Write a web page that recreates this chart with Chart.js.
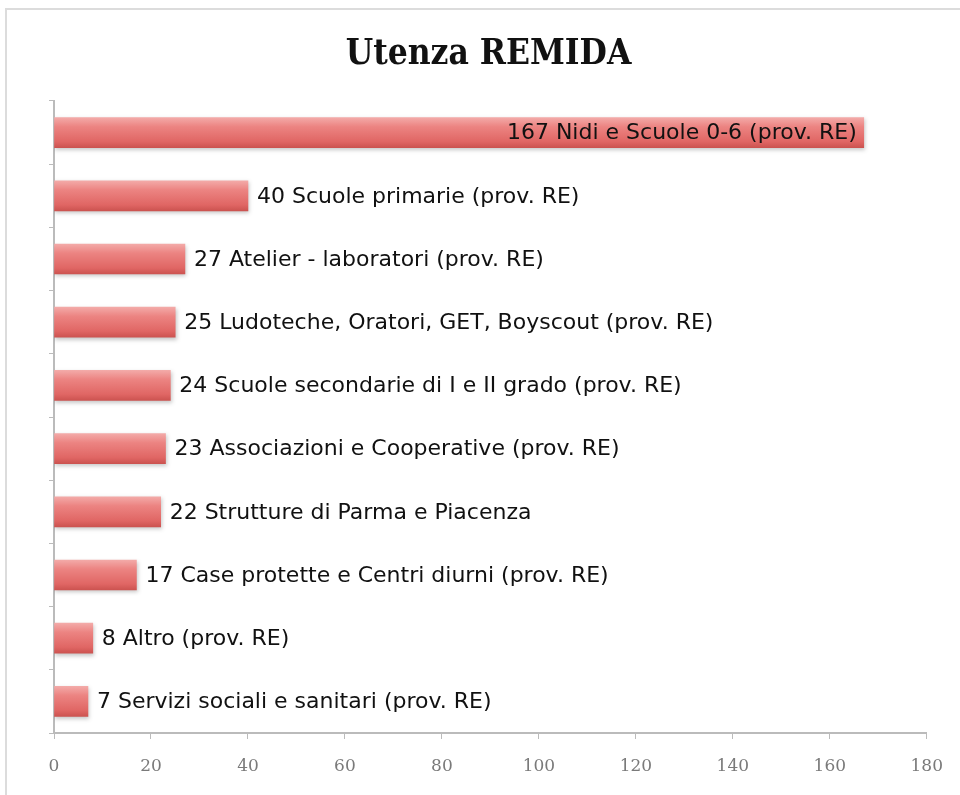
<!DOCTYPE html>
<html><head><meta charset="utf-8">
<script src="https://cdn.jsdelivr.net/npm/chart.js@4"></script>
<style>
html,body{margin:0;padding:0;background:#fff;overflow:hidden;}
#frame{position:absolute;left:5px;top:8px;width:1000px;height:900px;border:2px solid #dcdcdc;box-sizing:border-box;}
#wrap{position:absolute;left:0;top:0;width:960px;height:795px;}
</style></head>
<body>
<div id="frame"></div>
<div id="wrap"><canvas id="c" width="960" height="795"></canvas></div>
<script>
const chartTitle = "Utenza REMIDA";
const categories = [
  "Nidi e Scuole 0-6 (prov. RE)",
  "Scuole primarie (prov. RE)",
  "Atelier - laboratori (prov. RE)",
  "Ludoteche, Oratori, GET, Boyscout (prov. RE)",
  "Scuole secondarie di I e II grado (prov. RE)",
  "Associazioni e Cooperative (prov. RE)",
  "Strutture di Parma e Piacenza",
  "Case protette e Centri diurni (prov. RE)",
  "Altro (prov. RE)",
  "Servizi sociali e sanitari (prov. RE)"
];
const values = [167, 40, 27, 25, 24, 23, 22, 17, 8, 7];
const xMin = 0, xMax = 180, xStep = 20;

const BAR_T = 30;

const labelPlugin = {
  id: 'barLabels',
  beforeDatasetsDraw(chart) {
    const ctx = chart.ctx;
    ctx.save();
    ctx.shadowColor = 'rgba(0,0,0,0.22)';
    ctx.shadowBlur = 4;
    ctx.shadowOffsetX = 1;
    ctx.shadowOffsetY = 2;
  },
  afterDatasetsDraw(chart) {
    const ctx = chart.ctx;
    ctx.restore();
    const meta = chart.getDatasetMeta(0);
    ctx.save();
    ctx.font = '22px "DejaVu Sans"';
    ctx.fillStyle = '#111';
    ctx.textBaseline = 'middle';
    meta.data.forEach((bar, i) => {
      const text = values[i] + ' ' + categories[i];
      const w = ctx.measureText(text).width;
      if (bar.x + 9 + w > chart.chartArea.right) {
        ctx.textAlign = 'right';
        ctx.fillText(text, bar.x - 7, bar.y + 1);
      } else {
        ctx.textAlign = 'left';
        ctx.fillText(text, bar.x + 9, bar.y + 1);
      }
    });
    ctx.restore();
  }
};

new Chart(document.getElementById('c'), {
  type: 'bar',
  data: {
    labels: categories,
    datasets: [{
      data: values,
      barThickness: BAR_T,
      borderWidth: 0,
      backgroundColor: (c) => {
        const chart = c.chart;
        if (!chart.chartArea || !chart.scales.y) return '#e07878';
        const y = chart.scales.y.getPixelForValue(c.dataIndex);
        const g = chart.ctx.createLinearGradient(0, y - BAR_T/2, 0, y + BAR_T/2);
        g.addColorStop(0, '#f3aaa8');
        g.addColorStop(0.3, '#ec8482');
        g.addColorStop(0.8, '#e06664');
        g.addColorStop(1, '#cc5350');
        return g;
      }
    }]
  },
  options: {
    indexAxis: 'y',
    responsive: false,
    animation: false,
    layout: { padding: { left: 47, right: 30, top: 0, bottom: 0 } },
    plugins: {
      legend: { display: false },
      tooltip: { enabled: false },
      title: {
        display: true,
        text: chartTitle,
        font: { family: '"DejaVu Serif Condensed", "DejaVu Serif"', size: 35, weight: 'bold' },
        color: '#111',
        padding: { top: 34, bottom: 25 }
      }
    },
    scales: {
      x: {
        min: xMin, max: xMax,
        ticks: { stepSize: xStep, color: '#7a7a7a', font: { family: '"DejaVu Serif"', size: 17 }, padding: 17 },
        grid: { drawOnChartArea: false, drawTicks: true, tickLength: 6, color: '#bbb' },
        border: { display: true, color: '#bbb', width: 2 },
        afterFit: (s) => { s.height = 62; }
      },
      y: {
        ticks: { display: false },
        grid: { drawOnChartArea: false, drawTicks: true, tickLength: 5, color: '#bbb', offset: true },
        border: { display: true, color: '#bbb', width: 2 },
        afterFit: (s) => { s.width = 7; }
      }
    }
  },
  plugins: [labelPlugin]
});
</script>
</body></html>
